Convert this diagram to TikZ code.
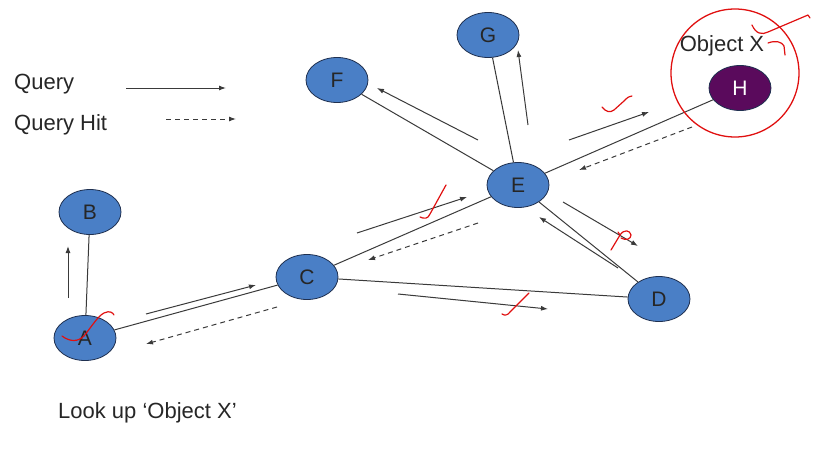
\documentclass[tikz,border=0pt]{standalone}
\usepackage{fontspec}
\setmainfont{Liberation Sans}
\usetikzlibrary{shapes.geometric,arrows.meta}
\definecolor{nodeblue}{HTML}{4A7FC6}
\definecolor{nodeedge}{HTML}{1F3050}
\definecolor{hpurple}{HTML}{5A0A5C}
\definecolor{linegray}{HTML}{3A3A3A}
\definecolor{annot}{HTML}{E01010}
\tikzset{
  peer/.style={ellipse,draw=nodeedge,line width=0.8pt,fill=nodeblue,minimum width=62pt,minimum height=45pt,inner sep=0pt,font=\fontsize{21}{24}\selectfont,text=black!85},
  hpeer/.style={peer,fill=hpurple,text=white},
  link/.style={draw=linegray,line width=1pt},
  qarrow/.style={draw=linegray,line width=1pt,-{Latex[length=7pt,width=5pt]}},
  harrow/.style={qarrow,dashed,dash pattern=on 5pt off 4pt},
  lbl/.style={font=\fontsize{22}{26}\selectfont,inner sep=0pt,text=black!85},
  tick/.style={draw=annot,line width=1.2pt,line cap=round,line join=round}
}
\begin{document}
\begin{tikzpicture}[x=1pt,y=-1pt]
\useasboundingbox (0,0) rectangle (827,452);
% nodes
\node[peer] (A) at (85,338) {A};
\node[peer] (B) at (90,212) {B};
\node[peer] (C) at (307,277) {C};
\node[peer] (E) at (518,185) {E};
\node[peer] (D) at (659,299) {D};
\node[peer] (F) at (337,80) {F};
\node[peer] (G) at (488,35) {G};
\node[hpeer] (H) at (740,88) {H};
% links
\draw[link] (A) -- (B);
\draw[link] (A) -- (C);
\draw[link] (C) -- (E);
\draw[link] (C) -- (D);
\draw[link] (E) -- (D);
\draw[link] (E) -- (F);
\draw[link] (E) -- (G);
\draw[link] (E) -- (H);
% legend
\node[lbl,anchor=west] (lq) at (14,84) {Query};
\node[lbl,anchor=west] (lh) at (14,125) {Query Hit};
\coordinate (lq1) at (126,88); \coordinate (lq2) at (226,88);
\coordinate (lh1) at (166,119); \coordinate (lh2) at (236,119);
\draw[qarrow] (lq1) -- (lq2);
\draw[harrow] (lh1) -- (lh2);
\node[lbl,anchor=west] (look) at (58,413) {Look up ‘Object X’};
\node[lbl] (objx) at (722,46) {Object X};
% message arrows
\coordinate (ab1) at (68,298); \coordinate (ab2) at (68,246);
\draw[qarrow] (ab1) -- (ab2);
\coordinate (ac1) at (146,314); \coordinate (ac2) at (256,285);
\draw[qarrow] (ac1) -- (ac2);
\coordinate (ca1) at (277,307); \coordinate (ca2) at (146,344);
\draw[harrow] (ca1) -- (ca2);
\coordinate (ce1) at (357,233); \coordinate (ce2) at (467,197);
\draw[qarrow] (ce1) -- (ce2);
\coordinate (ec1) at (478,223); \coordinate (ec2) at (368,260);
\draw[harrow] (ec1) -- (ec2);
\coordinate (cd1) at (398,294); \coordinate (cd2) at (548,309);
\draw[qarrow] (cd1) -- (cd2);
\coordinate (ed1) at (563,202); \coordinate (ed2) at (638,246);
\draw[qarrow] (ed1) -- (ed2);
\coordinate (de1) at (618,268); \coordinate (de2) at (539,217);
\draw[qarrow] (de1) -- (de2);
\coordinate (ef1) at (478,140); \coordinate (ef2) at (377,88);
\draw[qarrow] (ef1) -- (ef2);
\coordinate (eg1) at (528,125); \coordinate (eg2) at (518,50);
\draw[qarrow] (eg1) -- (eg2);
\coordinate (eh1) at (569,140); \coordinate (eh2) at (649,112);
\draw[qarrow] (eh1) -- (eh2);
\coordinate (he1) at (692,127); \coordinate (he2) at (579,170);
\draw[harrow] (he1) -- (he2);
% red annotations
\draw[annot,line width=1.3pt] (735,73) ellipse (64pt and 64pt);
\draw[tick] (752,25) .. controls (756,34) and (762,35) .. (768,32) -- (808,15) -- (810,18);
\draw[tick] (768,43) .. controls (776,40) and (782,42) .. (784,46) -- (785,55);
\draw[tick] (602,107) .. controls (606,112) and (610,113) .. (614,110) -- (624,101) .. controls (628,97) .. (632,96);
\draw[tick] (62,336) .. controls (70,342) and (78,342) .. (84,336) .. controls (92,326) and (98,316) .. (104,313) .. controls (110,310) and (113,313) .. (114,315);
\draw[tick] (420,217) .. controls (424,219) and (428,219) .. (430,214) -- (446,185);
\draw[tick] (502,314) .. controls (505,316) and (508,315) .. (510,312) -- (529,293);
\draw[tick] (611,250) -- (620,235) -- (618,232);
\draw[tick] (620,235) .. controls (624,229) and (630,230) .. (631,235) .. controls (631,239) and (626,241) .. (621,238);
\end{tikzpicture}
\end{document}
